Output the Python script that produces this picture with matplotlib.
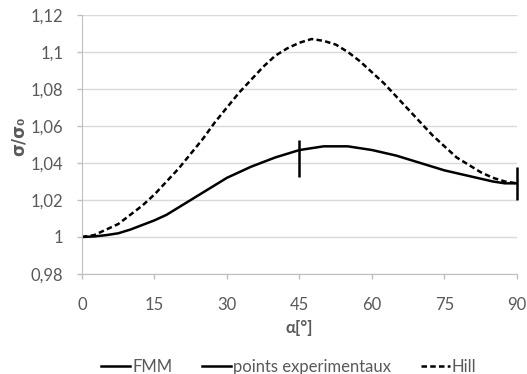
import numpy as np
import matplotlib.pyplot as plt
from matplotlib.lines import Line2D

plt.rcParams['font.family'] = ['Lato', 'DejaVu Sans']

# angles in degrees
alpha = [0, 2.5, 5, 7.5, 10, 12.5, 15, 17.5, 20, 22.5, 25, 27.5, 30, 32.5, 35,
         37.5, 40, 42.5, 45, 47.5, 50, 52.5, 55, 57.5, 60, 62.5, 65, 67.5, 70,
         72.5, 75, 77.5, 80, 82.5, 85, 87.5, 90]

# FMM model
fmm = [1.000, 1.0003, 1.001, 1.002, 1.004, 1.0065, 1.009, 1.012, 1.016, 1.020,
       1.024, 1.028, 1.032, 1.035, 1.038, 1.0405, 1.043, 1.045, 1.047, 1.048,
       1.049, 1.049, 1.049, 1.048, 1.047, 1.0455, 1.044, 1.042, 1.040, 1.038,
       1.036, 1.0345, 1.033, 1.0315, 1.030, 1.029, 1.029]

# Hill model
hill = [1.000, 1.001, 1.004, 1.007, 1.012, 1.017, 1.023, 1.030, 1.037, 1.045,
        1.053, 1.062, 1.070, 1.078, 1.085, 1.092, 1.098, 1.102, 1.105, 1.107,
        1.106, 1.104, 1.100, 1.095, 1.089, 1.083, 1.076, 1.069, 1.062, 1.055,
        1.049, 1.043, 1.039, 1.035, 1.032, 1.030, 1.029]

# experimental points (centre and half range of the bars)
exp_x = [45, 90]
exp_y = [1.0426, 1.0289]
exp_err = [0.0100, 0.0087]

y_ticks = [0.98, 1.0, 1.02, 1.04, 1.06, 1.08, 1.1, 1.12]
y_labels = ['0,98', '1', '1,02', '1,04', '1,06', '1,08', '1,1', '1,12']
x_ticks = [0, 15, 30, 45, 60, 75, 90]

grey = '#595959'
dash = (0, (2.2, 1.3))

fig = plt.figure(figsize=(5.27, 3.74), dpi=100)
ax = fig.add_axes([0.1556, 0.2674, 0.8254, 0.6926])

ax.plot(alpha, fmm, color='black', lw=1.8, solid_capstyle='butt')
ax.plot(alpha, hill, color='black', lw=1.8, linestyle=dash)
ax.errorbar(exp_x, exp_y, yerr=exp_err, fmt='none', ecolor='black',
            elinewidth=1.8, capsize=0, clip_on=False)

ax.set_xlim(0, 90)
ax.set_ylim(0.98, 1.12)
ax.set_xticks(x_ticks)
ax.set_xticklabels([str(v) for v in x_ticks])
ax.set_yticks(y_ticks)
ax.set_yticklabels(y_labels)

ax.grid(axis='y', color='#d9d9d9', lw=1)
ax.set_axisbelow(True)
for s in ['top', 'right']:
    ax.spines[s].set_visible(False)
for s in ['left', 'bottom']:
    ax.spines[s].set_color('#bfbfbf')
ax.tick_params(axis='both', colors='#bfbfbf', labelcolor=grey, labelsize=12,
               length=3.6, width=1)
ax.tick_params(axis='x', pad=13)
ax.tick_params(axis='y', pad=10)

ax.set_xlabel('α[°]', fontsize=12, fontweight='bold', color=grey, labelpad=5)
ax.set_ylabel('σ/σ₀', fontsize=12, fontweight='bold', color=grey, labelpad=3,
              family=['DejaVu Sans'])
ax.yaxis.set_label_coords(-0.125, 0.53)

handles = [Line2D([], [], color='black', lw=1.8),
           Line2D([], [], color='black', lw=1.8),
           Line2D([], [], color='black', lw=1.8, linestyle=dash)]
fig.legend(handles, ['FMM', 'points experimentaux', 'Hill'], loc='center',
           bbox_to_anchor=(0.548, 0.018), ncol=3, frameon=False, fontsize=12,
           handlelength=1.75, handletextpad=0.1, columnspacing=1.8,
           labelcolor=grey)

fig.savefig('out.png', dpi=100)
